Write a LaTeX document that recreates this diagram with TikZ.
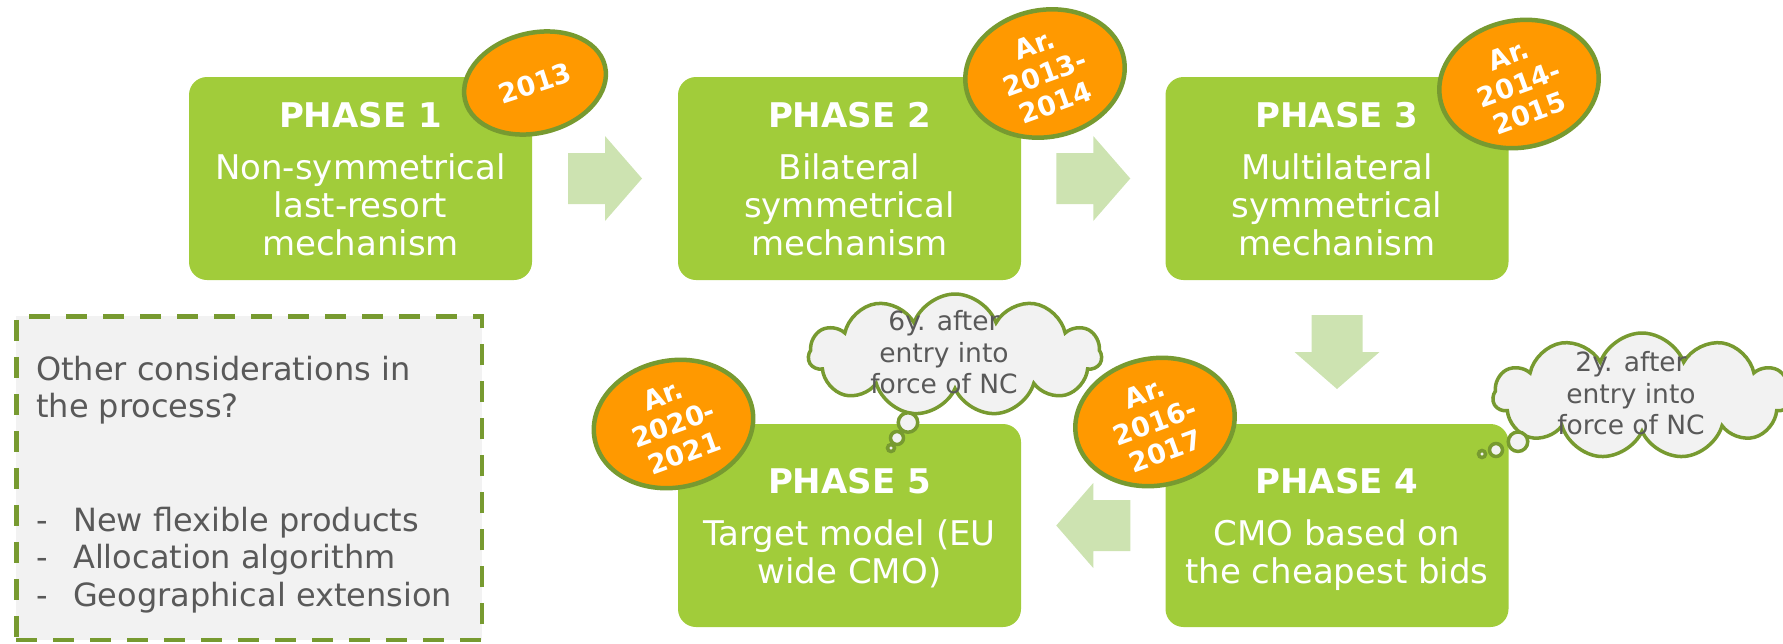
\documentclass[tikz,border=0pt]{standalone}
\usepackage{fontspec}
\setmainfont{DejaVu Sans}
\usetikzlibrary{shapes.geometric,shapes.symbols,calc}
\definecolor{phgreen}{HTML}{A1CC3A}
\definecolor{arrgreen}{HTML}{CDE3B1}
\definecolor{bordergreen}{HTML}{779A30}
\definecolor{orng}{HTML}{FF9900}
\definecolor{lgray}{HTML}{F2F2F2}
\definecolor{dgray}{HTML}{595959}
\tikzset{
  blockarr/.pic={\fill[arrgreen] (-37,-25.5) -- (0,-25.5) -- (0,-42.5) -- (37,0) -- (0,42.5) -- (0,25.5) -- (-37,25.5) -- cycle;}
}
\begin{document}
\begin{tikzpicture}[x=1pt,y=-1pt,
  phase/.style={rectangle, rounded corners=18pt, fill=phgreen, minimum width=343pt, minimum height=203pt, inner sep=0pt, text=white, align=center, font=\fontsize{34}{38}\selectfont, text depth=0pt},
  badge/.style={ellipse, fill=orng, draw=bordergreen, line width=4.5pt, inner sep=0pt},
  badgetext/.style={text=white, align=center, inner sep=0pt, font=\fontsize{27}{31}\selectfont\bfseries, text depth=0pt},
  cloudshape/.style={cloud, cloud puffs=11, cloud puff arc=140, cloud ignores aspect, fill=lgray, draw=bordergreen, line width=3.5pt, inner sep=0pt},
  cloudtext/.style={text=dgray, align=center, font=\fontsize{26.5}{31.5}\selectfont, inner sep=0pt, text depth=0pt},
  bubble/.style={circle, fill=lgray, draw=bordergreen, line width=3.5pt, inner sep=0pt},
  dashbox/.style={rectangle, fill=lgray, draw=bordergreen, line width=4.5pt, dash pattern=on 21pt off 16pt, minimum width=465.5pt, minimum height=323.5pt, inner sep=0pt},
  boxtext/.style={text=dgray, align=left, font=\fontsize{32}{37.7}\selectfont, inner sep=0pt, anchor=north west}
]
\useasboundingbox (0,0) rectangle (1783,643);

% other considerations box
\node[dashbox] (other) at (249,478) {};
\node[boxtext] (othert) at (36,355.7) {Other considerations in\\the process?\\[75.4pt]\makebox[37pt][l]{-}New flexible products\\\makebox[37pt][l]{-}Allocation algorithm\\\makebox[37pt][l]{-}Geographical extension};

% phases
\node[phase] (p1) at (360.5,178.5) {\textbf{PHASE 1}\\[14pt]Non-symmetrical\\last-resort\\mechanism};
\node[phase] (p2) at (849.5,178.5) {\textbf{PHASE 2}\\[14pt]Bilateral\\symmetrical\\mechanism};
\node[phase] (p3) at (1337,178.5) {\textbf{PHASE 3}\\[14pt]Multilateral\\symmetrical\\mechanism};
\node[phase] (p4) at (1337,525.5) {\textbf{PHASE 4}\\[14pt]CMO based on\\the cheapest bids};
\node[phase] (p5) at (849.5,525.5) {\textbf{PHASE 5}\\[14pt]Target model (EU\\wide CMO)};

% block arrows
\coordinate (m12) at ($(p1.east)!0.5!(p2.west)$);
\coordinate (m23) at ($(p2.east)!0.5!(p3.west)$);
\coordinate (m34) at ($(p3.south)!0.5!(p4.north)$);
\coordinate (m45) at ($(p4.west)!0.5!(p5.east)$);
\pic at (m12) {blockarr};
\pic at (m23) {blockarr};
\pic[rotate=-90] at (m34) {blockarr};
\pic[rotate=180] at (m45) {blockarr};

% thought clouds
\node[cloudshape, minimum width=293pt, minimum height=122pt] (c1) at (955,355) {};
\node[cloudtext] (c1t) at (944,352) {6y. after\\entry into\\force of NC};
\node[bubble, minimum size=19.5pt] (c1b1) at (908,422.5) {};
\node[bubble, minimum size=13pt] (c1b2) at (897,438) {};
\node[bubble, minimum size=7pt] (c1b3) at (891,448) {};

\node[cloudshape, minimum width=298pt, minimum height=126pt] (c2) at (1642,396) {};
\node[cloudtext] (c2t) at (1631,393) {2y. after\\entry into\\force of NC};
\node[bubble, minimum size=19.5pt] (c2b1) at (1518,441.7) {};
\node[bubble, minimum size=13pt] (c2b2) at (1496,450) {};
\node[bubble, minimum size=7pt] (c2b3) at (1482,454) {};

% badges
\node[badge, minimum width=144pt, minimum height=100pt, rotate=14] (b1) at (535,83) {};
\node[badgetext, rotate=18] (b1t) at (b1) {2013};
\node[badge, minimum width=160.5pt, minimum height=127pt, rotate=11] (b2) at (1045,73.5) {};
\node[badgetext, rotate=20] (b2t) at (b2) {Ar.\\2013-\\2014};
\node[badge, minimum width=160.5pt, minimum height=127pt, rotate=11] (b3) at (1519,84) {};
\node[badgetext, rotate=20] (b3t) at (b3) {Ar.\\2014-\\2015};
\node[badge, minimum width=160.5pt, minimum height=127pt, rotate=11] (b4) at (1155,422) {};
\node[badgetext, rotate=20] (b4t) at (b4) {Ar.\\2016-\\2017};
\node[badge, minimum width=160.5pt, minimum height=127pt, rotate=11] (b5) at (673.5,424) {};
\node[badgetext, rotate=20] (b5t) at (b5) {Ar.\\2020-\\2021};
\end{tikzpicture}
\end{document}
